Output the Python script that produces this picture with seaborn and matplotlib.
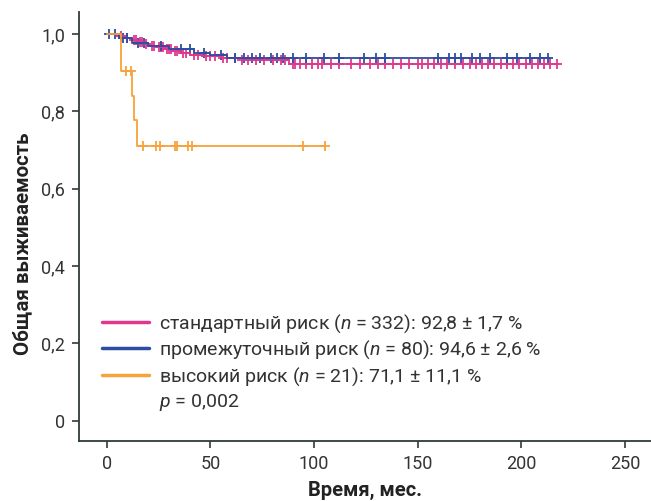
import seaborn as sns
import matplotlib.pyplot as plt
import numpy as np
import pandas as pd

# Kaplan-Meier step curves: (time, survival) at each drop
std_t = [0, 5, 9, 12, 15, 18, 21, 24, 28, 32, 36, 40, 46, 55, 65, 88]
std_s = [1.0, 0.995, 0.99, 0.985, 0.98, 0.975, 0.97, 0.966, 0.962, 0.957,
         0.952, 0.947, 0.942, 0.938, 0.934, 0.922]
std_end = 217.5
std_cens = [7, 10, 13, 14, 16, 17, 19, 22, 23, 25, 26, 27, 29, 30, 31, 33, 34,
            37, 38, 42, 44, 48, 50, 52, 56, 58, 62, 65, 68, 72, 76, 80, 84, 86,
            90, 91, 93, 96, 99, 102, 104, 108, 112, 118, 122, 127, 131, 134,
            138, 142, 146, 150, 152, 155, 158, 161, 164, 168, 172, 175, 178,
            181, 184, 187, 190, 193, 196, 199, 202, 205, 208, 211, 214, 217]

int_t = [0, 6, 12, 20, 30, 42, 50, 58]
int_s = [1.0, 0.99, 0.978, 0.97, 0.962, 0.952, 0.945, 0.937]
int_end = 214.0
int_cens = [1, 4, 8, 10, 15, 18, 26, 36, 40, 47, 55, 62, 66, 70, 74, 79, 82,
            85, 90, 96, 105, 112, 124, 130, 134, 160, 165, 168, 171, 176, 180,
            185, 193, 198, 204, 209, 213]

high_t = [0, 7, 12, 13, 14.5]
high_s = [1.0, 0.905, 0.84, 0.778, 0.711]
high_end = 105.5
high_cens = [9.4, 11.8, 17.5, 23.7, 25.6, 32.9, 33.7, 39.3, 40.9, 94.8, 105.3]

groups = ['стандартный риск', 'промежуточный риск', 'высокий риск']
legend_labels = ['стандартный риск ($n$ = 332): 92,8 ± 1,7 %',
                 'промежуточный риск ($n$ = 80): 94,6 ± 2,6 %',
                 'высокий риск ($n$ = 21): 71,1 ± 11,1 %']
p_label = '$p$ = 0,002'
colors = ['#e0378f', '#2b4ea3', '#f7a23a']


def step_value(t, s, x):
    idx = np.searchsorted(t, x, side='right') - 1
    return np.asarray(s)[idx]


curves = []
marks = []
for g, (t, s, end, cens) in zip(groups, [(std_t, std_s, std_end, std_cens),
                                         (int_t, int_s, int_end, int_cens),
                                         (high_t, high_s, high_end, high_cens)]):
    curves.append(pd.DataFrame({'time': t + [end], 'surv': s + [s[-1]], 'group': g}))
    marks.append(pd.DataFrame({'time': cens, 'surv': step_value(t, s, cens), 'group': g}))
curves = pd.concat(curves)
marks = pd.concat(marks)

sns.set_style('ticks')
plt.rcParams['font.family'] = ['Roboto', 'DejaVu Sans']
plt.rcParams['mathtext.fontset'] = 'custom'
plt.rcParams['mathtext.it'] = 'Roboto:italic'
plt.rcParams['mathtext.rm'] = 'Roboto'

fig = plt.figure(figsize=(6.51, 5.01), dpi=100)
ax = fig.add_axes([0.121, 0.12, 0.879, 0.856])
spine_col = '#2f3b3b'
palette = dict(zip(groups, colors))

for g in groups:
    sns.lineplot(data=curves[curves.group == g], x='time', y='surv',
                 color=palette[g], drawstyle='steps-post', estimator=None,
                 linewidth=1.3, ax=ax)
    sns.scatterplot(data=marks[marks.group == g], x='time', y='surv',
                    color=palette[g], marker='+', s=55, linewidth=1.3, ax=ax)

handles = [plt.Line2D([], [], color=c, linewidth=2.5) for c in colors]
handles.append(plt.Line2D([], [], color='none'))
ax.legend(handles, legend_labels + [p_label], loc='lower left',
          bbox_to_anchor=(0.01, 0.025), frameon=False, fontsize=14,
          handlelength=2.4, handletextpad=0.55, labelspacing=0.2,
          labelcolor='#333333')

ax.set_xlim(-13.5, 262.5)
ax.set_ylim(-0.052, 1.057)
ax.set_xticks([0, 50, 100, 150, 200, 250])
ax.set_yticks([0, 0.2, 0.4, 0.6, 0.8, 1.0])
ax.set_yticklabels(['0', '0,2', '0,4', '0,6', '0,8', '1,0'])
ax.tick_params(labelsize=13, colors=spine_col, labelcolor='#333333',
               length=5, width=1.2, pad=5)
ax.set_xlabel('Время, мес.', fontsize=14.5, fontweight='bold', color='#222222',
              labelpad=6)
ax.set_ylabel('Общая выживаемость', fontsize=14.8, fontweight='bold',
              color='#222222')
ax.yaxis.set_label_coords(-0.082, 0.46)
sns.despine(ax=ax)
for sp in ['left', 'bottom']:
    ax.spines[sp].set_color(spine_col)
    ax.spines[sp].set_linewidth(1.3)

fig.savefig('out.png', dpi=100)
